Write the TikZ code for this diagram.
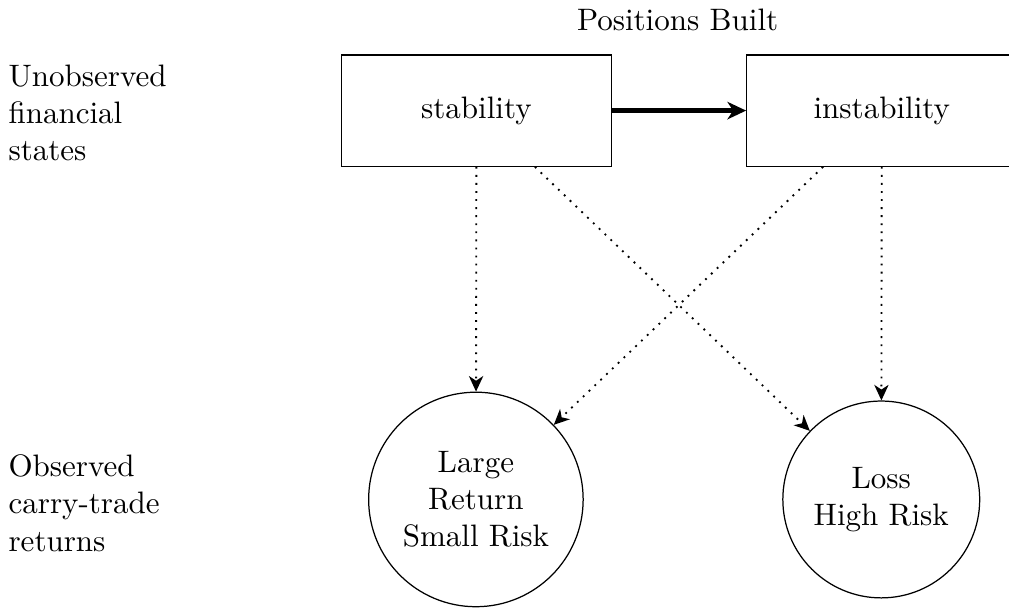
\documentclass[tikz,border=0pt]{standalone}
\usetikzlibrary{arrows.meta}
\begin{document}
\begin{tikzpicture}[
  statebox/.style={draw, rectangle, minimum width=3.06cm, minimum height=1.26cm, inner sep=0pt},
  retcircle/.style={draw, circle, inner sep=0pt, align=center},
  sidelabel/.style={anchor=west, align=left, inner sep=0pt},
  trans/.style={line width=1.5pt, -{Stealth[length=6pt,width=5.6pt,inset=1.8pt]}},
  emit/.style={dotted, semithick, -{Stealth[length=5pt,width=4.6pt,inset=1.5pt]}}
]
\clip (0,0) rectangle (11.43,-6.886);
\useasboundingbox (0,0) rectangle (11.43,-6.886);

\node[inner sep=0pt] (title) at (7.676,-0.227) {Positions Built};
\node[sidelabel] (unobs) at (0.09,-1.28) {Unobserved\\financial\\states};
\node[sidelabel] (obs) at (0.09,-5.70) {Observed\\carry-trade\\returns};

\node[statebox] (stab) at (5.397,-1.253) {stability};
\node[statebox] (inst) at (9.989,-1.253) {instability};

\node[retcircle, minimum size=2.43cm] (large) at (5.391,-5.658) {Large\\Return\\Small Risk};
\node[retcircle, minimum size=2.23cm] (loss) at (9.983,-5.658) {Loss\\High Risk};

\draw[trans] (stab) -- (inst);
\draw[emit] (stab) -- (large);
\draw[emit] (stab) -- (loss);
\draw[emit] (inst) -- (large);
\draw[emit] (inst) -- (loss);
\end{tikzpicture}
\end{document}
